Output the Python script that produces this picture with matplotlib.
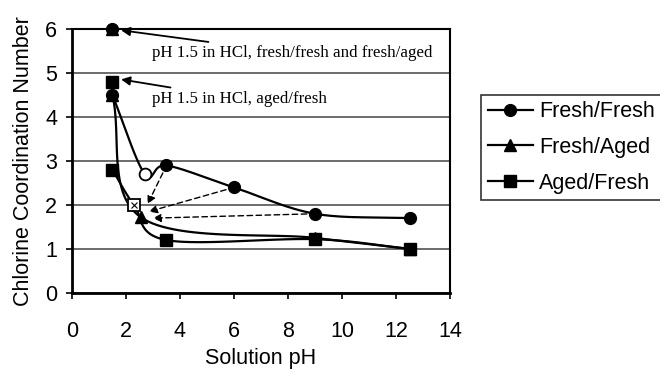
import numpy as np
import matplotlib
matplotlib.use("Agg")
import matplotlib.pyplot as plt
from matplotlib.lines import Line2D

plt.rcParams['font.family'] = ['Liberation Sans', 'DejaVu Sans']

# main series (solution pH, Cl coordination number)
ff_ph = [1.5, 2.7, 3.5, 6.0, 9.0, 12.5]
ff_cn = [4.5, 2.7, 2.9, 2.4, 1.8, 1.7]
fa_ph = [1.5, 2.55, 9.0, 12.5]
fa_cn = [4.5, 1.72, 1.25, 1.0]
af_ph = [1.5, 2.3, 3.5, 9.0, 12.5]
af_cn = [2.8, 2.0, 1.2, 1.22, 1.0]

# pH 1.5 in HCl points
hcl_ff = (1.5, 6.0)
hcl_fa = (1.5, 6.0)
hcl_af = (1.5, 4.8)

# dashed arrows: from point -> to point
dash_from = [(3.5, 2.9), (6.0, 2.4), (9.0, 1.8)]
dash_to = [(2.8, 2.02), (2.85, 1.85), (3.0, 1.7)]


def smooth(x, y, n=30):
    # catmull-rom curve through the points (like excel smoothed lines)
    x = np.asarray(x, float)
    y = np.asarray(y, float)
    px = np.concatenate([[2 * x[0] - x[1]], x, [2 * x[-1] - x[-2]]])
    py = np.concatenate([[2 * y[0] - y[1]], y, [2 * y[-1] - y[-2]]])
    xs, ys = [], []
    t = np.linspace(0, 1, n)
    for i in range(1, len(px) - 2):
        for p, out in ((px, xs), (py, ys)):
            p0, p1, p2, p3 = p[i - 1], p[i], p[i + 1], p[i + 2]
            out.extend(0.5 * ((2 * p1) + (-p0 + p2) * t +
                              (2 * p0 - 5 * p1 + 4 * p2 - p3) * t ** 2 +
                              (-p0 + 3 * p1 - 3 * p2 + p3) * t ** 3))
    return xs, ys


fig = plt.figure(figsize=(6.6, 3.72), dpi=100)
ax = fig.add_axes([0.109, 0.213, 0.573, 0.708])

ms = 8.5
lw = 1.6
fs = 15.5
for xs, ys in (smooth(ff_ph, ff_cn), smooth(fa_ph, fa_cn), smooth(af_ph, af_cn)):
    ax.plot(xs, ys, color='black', lw=lw, zorder=3)

ax.plot([ff_ph[0]] + ff_ph[2:], [ff_cn[0]] + ff_cn[2:], 'o', color='black', ms=ms, zorder=4)
ax.plot(ff_ph[1], ff_cn[1], 'o', mfc='white', mec='black', mew=1.3, ms=ms, zorder=4)
ax.plot(fa_ph, fa_cn, '^', color='black', ms=ms, zorder=4)
ax.plot([af_ph[0]] + af_ph[2:], [af_cn[0]] + af_cn[2:], 's', color='black', ms=ms, zorder=5)
ax.plot(af_ph[1], af_cn[1], 's', mfc='white', mec='black', mew=1.3, ms=ms, zorder=5)
ax.plot(af_ph[1], af_cn[1], 'x', color='black', mew=0.8, ms=5, zorder=6)

ax.plot(*hcl_fa, '^', color='black', ms=ms, zorder=4, clip_on=False)
ax.plot(*hcl_ff, 'o', color='black', ms=ms, zorder=4, clip_on=False)
ax.plot(*hcl_af, 's', color='black', ms=ms, zorder=4)

for (x0, y0), (x1, y1) in zip(dash_from, dash_to):
    ax.annotate('', xy=(x1, y1), xytext=(x0, y0),
                arrowprops=dict(arrowstyle='-|>', ls=(0, (4, 2.5)), lw=1,
                                color='black', mutation_scale=12,
                                shrinkA=6, shrinkB=0), zorder=4)

serif = ['Liberation Serif', 'DejaVu Serif']
ax.annotate('pH 1.5 in HCl, fresh/fresh and fresh/aged', xy=(1.82, 5.98),
            xytext=(2.95, 5.46), fontsize=12.2, family=serif, va='center',
            arrowprops=dict(arrowstyle='-|>', lw=1.3, color='black',
                            mutation_scale=13, shrinkA=2, shrinkB=0))
ax.annotate('pH 1.5 in HCl, aged/fresh', xy=(1.82, 4.86),
            xytext=(2.95, 4.42), fontsize=12.2, family=serif, va='center',
            arrowprops=dict(arrowstyle='-|>', lw=1.3, color='black',
                            mutation_scale=13, shrinkA=2, shrinkB=0))

ax.set_xlim(0, 14)
ax.set_ylim(0, 6)
ax.set_xticks(range(0, 15, 2))
ax.set_yticks(range(0, 7))
ax.grid(axis='y', color='#444444', lw=1.1)
ax.set_axisbelow(True)
for side in ('left', 'bottom'):
    ax.spines[side].set_linewidth(2)
for side in ('top', 'right'):
    ax.spines[side].set_linewidth(1.5)
ax.tick_params(direction='out', length=4.5, width=1.2, labelsize=fs)
ax.tick_params(axis='x', pad=16)
ax.tick_params(axis='y', pad=6)
ax.set_xlabel('Solution pH', fontsize=fs, labelpad=4)
ax.set_ylabel('Chlorine Coordination Number', fontsize=fs, labelpad=8)

handles = [Line2D([], [], color='black', lw=lw, marker=m, ms=ms) for m in ('o', '^', 's')]
leg = fig.legend(handles, ['Fresh/Fresh', 'Fresh/Aged', 'Aged/Fresh'],
                 loc='upper left', bbox_to_anchor=(0.729, 0.745), fontsize=fs,
                 frameon=True, fancybox=False, edgecolor='black',
                 handlelength=2.1, handletextpad=0.3, labelspacing=0.68,
                 borderpad=0.3, borderaxespad=0)
leg.get_frame().set_linewidth(1.2)

fig.savefig('out.png', dpi=100)
